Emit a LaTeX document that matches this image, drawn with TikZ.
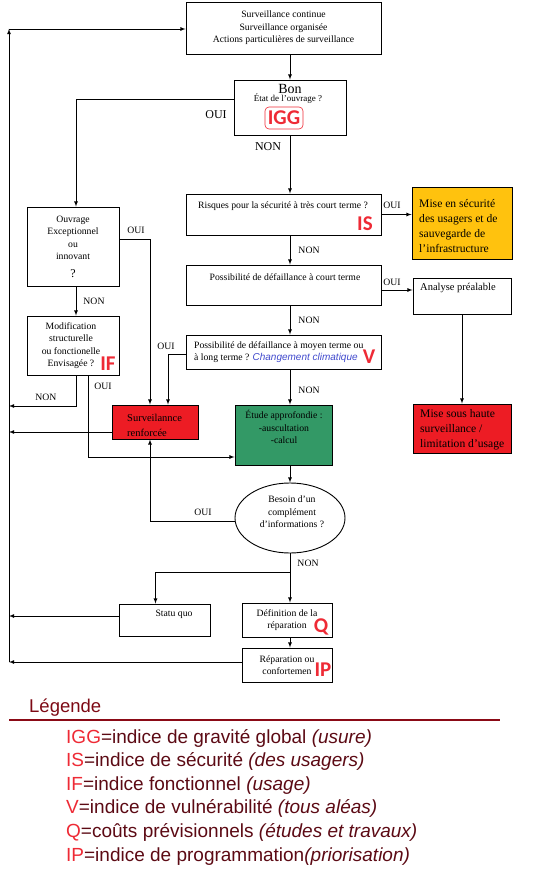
\documentclass[tikz,border=0pt]{standalone}
\usepackage{fontspec}
\setmainfont{Liberation Serif}
\newfontfamily\legfont{Liberation Sans}
\newfontfamily\idxfont{Carlito}
\usetikzlibrary{positioning,arrows,calc,shapes.geometric}
\definecolor{boxyellow}{HTML}{FFC20E}
\definecolor{boxred}{HTML}{ED1C24}
\definecolor{boxgreen}{HTML}{339966}
\definecolor{idxred}{HTML}{EE2A35}
\definecolor{climblue}{HTML}{3F48CC}
\definecolor{legdark}{HTML}{5C0A14}
\definecolor{legline}{HTML}{8B0A16}
\newcommand{\climfont}{\legfont\itshape\color{climblue}\fontsize{10}{10}\selectfont}
\newcommand{\legcode}[1]{\textcolor{idxred}{#1}}
\tikzset{box/.style={draw,line width=0.9pt,inner sep=0pt,align=center,font=\fontsize{9.7}{12.5}\selectfont},}
\tikzset{lbl/.style={inner sep=0pt,font=\fontsize{9.7}{12.5}\selectfont},}
\tikzset{big/.style={inner sep=0pt,font=\fontsize{10.5}{15}\selectfont,align=left,anchor=west},}
\tikzset{bigger/.style={big,font=\fontsize{11.6}{15}\selectfont},}
\tikzset{idx/.style={inner sep=0pt,text=idxred,font=\idxfont\bfseries\fontsize{21}{21}\selectfont},}
\tikzset{leg/.style={inner sep=0pt,anchor=base west,text=legdark,font=\legfont\fontsize{19}{19}\selectfont},}
\tikzset{flow/.style={-latex,line width=0.8pt},}

\begin{document}
\begin{tikzpicture}[x=1pt,y=-1pt]
	\useasboundingbox (0,0) rectangle (546,882);
	% main column
	\node[box,minimum width=195pt,minimum height=52pt] (top) at (283.5,28) {Surveillance continue\\Surveillance organisée\\Actions particulières de surveillance};
	\node[box,minimum width=112pt,minimum height=55pt] (bon) at (290,107.5) {};
	\node[lbl,font=\fontsize{14}{14}\selectfont] (bonT) at (290,89) {Bon};
	\node[lbl,font=\fontsize{9}{9}\selectfont] (etat) at (288,99) {État de l’ouvrage ?};
	\node[idx,draw=idxred,line width=0.6pt,rounded corners=4pt,minimum width=38pt,minimum height=22pt] (igg) at (284,118) {IGG};
	\node[box,minimum width=195pt,minimum height=41pt] (risk) at (283.5,214.5) {};
	\node[lbl] (riskT) at (283,206) {Risques pour la sécurité à très court terme ?};
	\node[idx] (is) at (365,224) {IS};
	\node[box,minimum width=195pt,minimum height=40pt] (court) at (283.5,285) {};
	\node[lbl] (courtT) at (285,277) {Possibilité de défaillance à court terme};
	\node[box,minimum width=195pt,minimum height=34pt] (moyen) at (283.5,352) {};
	\node[lbl,align=left,anchor=west] (moyenT) at (194,352) {Possibilité de défaillance à moyen terme ou\\à long terme ? {\climfont Changement climatique}};
	\node[idx] (v) at (369,357) {V};
	\node[box,fill=boxgreen,minimum width=97pt,minimum height=60pt] (etude) at (283.5,435) {};
	\node[lbl,align=center] (etudeT) at (284,427) {Étude approfondie :\\-auscultation\\-calcul};
	\node[box,ellipse,minimum width=110pt,minimum height=70pt] (besoin) at (290,518) {};
	\node[lbl,align=center] (besoinT) at (292,512) {Besoin d’un\\complément\\d’informations ?};
	\node[box,minimum width=91pt,minimum height=32pt] (statu) at (164.5,620) {};
	\node[lbl] (statuT) at (174,614) {Statu quo};
	\node[box,minimum width=90pt,minimum height=34pt] (defin) at (287,620) {};
	\node[lbl,align=center] (definT) at (287,620) {Définition de la\\réparation};
	\node[idx] (q) at (321,627) {Q};
	\node[box,minimum width=90pt,minimum height=34pt] (repar) at (287,665) {};
	\node[lbl,align=center] (reparT) at (287,665) {Réparation ou\\confortemen};
	\node[idx] (ip) at (323,670) {IP};

	% left column
	\node[box,minimum width=92pt,minimum height=79pt] (ouv) at (73,246.5) {Ouvrage\\Exceptionnel\\ou\\innovant\\[5pt]{\fontsize{12}{12}\selectfont ?}};
	\node[box,minimum width=92pt,minimum height=59pt] (modif) at (73,345.5) {};
	\node[lbl,align=center] (modifT) at (71,345.5) {Modification\\structurelle\\ou fonctionelle\\Envisagée ?};
	\node[idx] (if) at (108,364) {IF};
	\node[box,fill=boxred,minimum width=86pt,minimum height=34pt] (surv) at (155,422) {};
	\node[big] (survT) at (127,425.5) {Surveilannce\\renforcée};

	% right column
	\node[box,fill=boxyellow,minimum width=100pt,minimum height=72pt] (yel) at (462,223) {};
	\node[bigger] (yelT) at (419,226.5) {Mise en sécurité\\des usagers et de\\sauvegarde de\\l'infrastructure};
	\node[box,minimum width=98pt,minimum height=36pt] (anal) at (462,296) {};
	\node[big] (analT) at (420,288) {Analyse préalable};
	\node[box,fill=boxred,minimum width=98pt,minimum height=49pt] (haute) at (462,428.5) {};
	\node[bigger] (hauteT) at (420,430) {Mise sous haute\\surveillance /\\limitation d'usage};

	% OUI / NON
	\node[lbl,font=\fontsize{12}{12}\selectfont] (oui1) at (216,115) {OUI};
	\node[lbl,font=\fontsize{12}{12}\selectfont] (non1) at (268,147) {NON};
	\node[lbl] (oui2) at (392,205) {OUI};
	\node[lbl] (non2) at (309,250) {NON};
	\node[lbl] (oui3) at (392,282) {OUI};
	\node[lbl] (non3) at (309,320) {NON};
	\node[lbl] (oui4) at (166,346) {OUI};
	\node[lbl] (non4) at (309,390) {NON};
	\node[lbl] (oui5) at (136,230) {OUI};
	\node[lbl] (non5) at (94,301) {NON};
	\node[lbl] (oui6) at (103,386) {OUI};
	\node[lbl] (non6) at (46,397) {NON};
	\node[lbl] (oui7) at (203,512) {OUI};
	\node[lbl] (non7) at (308,563) {NON};

	% left return line
	\coordinate (ltop) at (9,29);
	\coordinate (lOuv) at (9,406);
	\coordinate (lSurv) at (9,432);
	\coordinate (lStatu) at (9,616);
	\coordinate (lbot) at (9,662);
	\coordinate (fork) at (290,572);

	\draw[flow] (top.south -| bon.north) -- (bon.north);
	\draw[flow] (bon.south) -- (bon.south |- risk.north);
	\draw[flow] (bon.south |- risk.south) -- (bon.south |- court.north);
	\draw[flow] (bon.south |- court.south) -- (bon.south |- moyen.north);
	\draw[flow] (bon.south |- moyen.south) -- (bon.south |- etude.north);
	\draw[flow] (bon.south |- etude.south) -- (besoin.north);
	\draw[flow] (besoin.south) -- (besoin.south |- defin.north);
	\draw[flow] (besoin.south |- defin.south) -- (besoin.south |- repar.north);
	\draw[flow] (fork) -| ([xshift=-9pt]statu.north);
	\draw[flow] (risk.east) -- (risk.east -| yel.west);
	\draw[flow] ([yshift=-5pt]court.east) -- ([yshift=6pt]anal.west);
	\draw[flow] (anal.south) -- (haute.north);
	\draw[flow] ([yshift=8.5pt]bon.west) -| ([xshift=3pt]ouv.north);
	\draw[flow] ([xshift=3pt]ouv.south) -- ([xshift=3pt]modif.north);
	\draw[flow] ([xshift=3pt]modif.south) |- (lOuv);
	\draw[flow] ([xshift=15pt]modif.south) |- ([yshift=-22pt]etude.west);
	\draw[flow] ([yshift=7.5pt]ouv.east) -| ([xshift=-5pt]surv.north);
	\draw[flow] ([yshift=-2pt]moyen.west) -| ([xshift=13pt]surv.north);
	\draw[flow] ([yshift=-3pt]besoin.west) -| ([xshift=-5pt]surv.south);
	\draw[flow] ([yshift=-10pt]surv.west) -- (lSurv);
	\draw[flow] ([yshift=4pt]statu.west) -- (lStatu);
	\draw[flow] ([yshift=3pt]repar.west) -- (lbot);
	\draw[flow] (lbot) -- (ltop);
	\draw[flow] (ltop) -- (ltop -| top.west);

	% legend
	\node[leg,text=legline!90!black,font=\legfont\fontsize{18.5}{18.5}\selectfont] (legT) at (29,712) {Légende};
	\draw[legline,line width=2pt] (9,720) -- (500,720);
	\node[leg] (leg1) at (66,743) {\legcode{IGG}=indice de gravité global \textit{(usure)}};
	\node[leg] (leg2) at (66,766.6) {\legcode{IS}=indice de sécurité \textit{(des usagers)}};
	\node[leg] (leg3) at (66,790.2) {\legcode{IF}=indice fonctionnel \textit{(usage)}};
	\node[leg] (leg4) at (66,813.8) {\legcode{V}=indice de vulnérabilité \textit{(tous aléas)}};
	\node[leg] (leg5) at (66,837.4) {\legcode{Q}=coûts prévisionnels \textit{(études et travaux)}};
	\node[leg] (leg6) at (66,861) {\legcode{IP}=indice de programmation\textit{(priorisation)}};
\end{tikzpicture}
\end{document}
